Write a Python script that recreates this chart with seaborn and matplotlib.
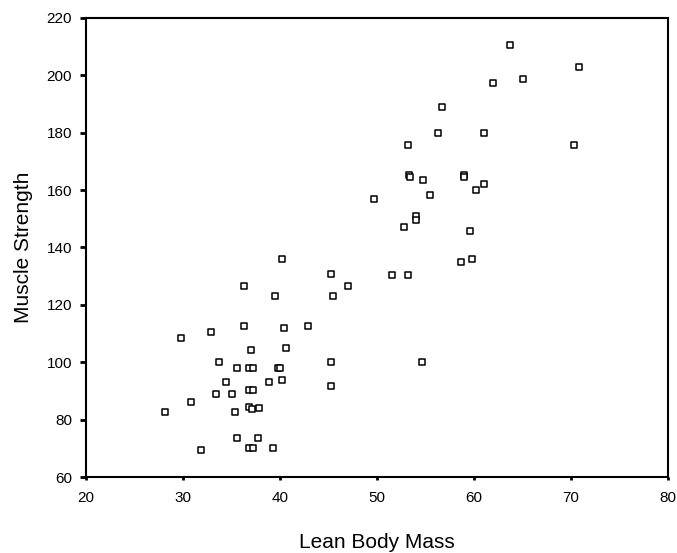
# %% Requirements and constants
import matplotlib
matplotlib.use('Agg')
import matplotlib.pyplot as plt
import seaborn as sns
import pandas as pd

lean_body_mass = [
    63.7, 70.8, 61.9, 65.0, 56.7, 56.3, 61.0, 53.2, 70.3, 53.3,
    53.4, 54.7, 59.0, 59.0, 61.0, 60.2, 55.5, 49.7, 54.0, 54.0,
    52.8, 59.6, 58.6, 59.8, 51.5, 53.2, 45.3, 47.0, 45.5, 54.6,
    45.2, 45.3, 40.2, 36.3, 39.5, 32.9, 29.8, 36.3, 40.4, 42.9,
    37.0, 40.6, 33.7, 35.6, 36.8, 37.2, 39.8, 40.0, 34.4, 38.9,
    40.2, 36.8, 37.2, 33.4, 35.0, 30.8, 36.8, 37.1, 37.8, 28.1,
    35.4, 35.6, 37.7, 31.9, 36.8, 37.2, 39.3,
]
muscle_strength = [
    210.5, 202.9, 197.3, 198.7, 188.9, 179.9, 179.9, 175.6, 175.6, 165.3,
    164.5, 163.6, 165.3, 164.5, 162.3, 160.2, 158.2, 156.8, 151.1, 149.7,
    147.0, 145.6, 135.0, 135.9, 130.3, 130.3, 130.7, 126.7, 123.1, 100.0,
    100.1, 91.7, 135.9, 126.5, 123.1, 110.5, 108.4, 112.6, 111.9, 112.6,
    104.1, 104.9, 100.1, 98.0, 98.0, 98.0, 98.0, 98.0, 93.1, 93.1,
    93.8, 90.3, 90.3, 88.8, 88.8, 86.0, 84.5, 83.8, 84.0, 82.5,
    82.5, 73.5, 73.5, 69.3, 70.0, 70.0, 70.0,
]
x_ticks = [20, 30, 40, 50, 60, 70, 80]
y_ticks = [60, 80, 100, 120, 140, 160, 180, 200, 220]

# %% Plot
sns.set_style('white')
plt.rcParams['font.family'] = ['Liberation Sans', 'DejaVu Sans']
plt.rcParams.update({'text.color': 'black', 'axes.labelcolor': 'black',
                     'xtick.color': 'black', 'ytick.color': 'black'})

df = pd.DataFrame({'Lean Body Mass': lean_body_mass,
                   'Muscle Strength': muscle_strength})

fig = plt.figure(figsize=(6.77, 5.53), dpi=100)
ax = fig.add_axes([0.127, 0.1374, 0.86, 0.8301])

sns.scatterplot(data=df, x='Lean Body Mass', y='Muscle Strength', ax=ax,
                marker='s', s=24, facecolor='white', edgecolor='black',
                linewidth=1.1)

ax.set_xlim(20, 80)
ax.set_ylim(60, 220)
ax.set_xticks(x_ticks)
ax.set_yticks(y_ticks)
ax.tick_params(axis='y', direction='out', length=4, width=2, pad=6,
               labelsize=11, left=True)
ax.tick_params(axis='x', direction='out', length=2, width=2, pad=8,
               labelsize=11, bottom=True)
for side in ax.spines.values():
    side.set_visible(True)
    side.set_color('black')
    side.set_linewidth(1.5)

ax.set_xlabel('Lean Body Mass', fontsize=15, labelpad=20)
ax.set_ylabel('Muscle Strength', fontsize=15, labelpad=10)

fig.savefig('out.png', dpi=100, facecolor='white')
